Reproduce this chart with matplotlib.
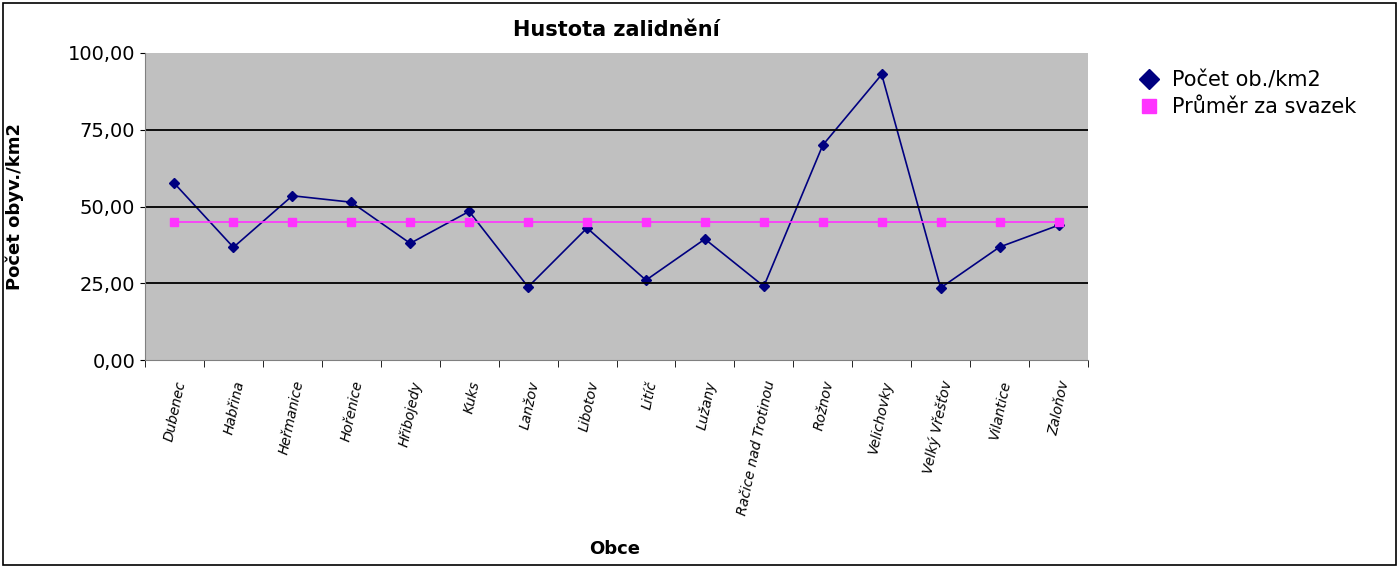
import matplotlib
matplotlib.use("Agg")
import matplotlib.pyplot as plt
from matplotlib.ticker import FuncFormatter
from matplotlib.lines import Line2D

obce = ["Dubenec","Habřina","Heřmanice","Hořenice","Hřibojedy","Kuks","Lanžov","Libotov","Litíč","Lužany","Račice nad Trotinou","Rožnov","Velichovky","Velký Vřešťov","Vilantice","Zaloňov"]
hustota = [57.5,36.7,53.5,51.4,38.0,48.4,23.8,43.0,26.0,39.4,24.0,70.0,93.0,23.5,36.8,43.9]
prumer = [45.0]*16

fig = plt.figure(figsize=(14,5.67), dpi=100)
fig.patches.append(plt.Rectangle((0.002,0.004),0.995,0.99,transform=fig.transFigure,fill=False,edgecolor='black',lw=1.2))
ax = fig.add_axes([145/1400, 1-360/567, 943/1400, 307/567])
ax.set_facecolor('#c0c0c0')
x = range(len(obce))
ax.plot(x, hustota, color='#000080', marker='D', markersize=5, lw=1.2)
ax.plot(x, prumer, color='#ff33ff', marker='s', markersize=6, lw=1.2)
ax.set_xlim(-0.45, 15.45)
ax.set_ylim(0, 100)
ax.set_yticks([0,25,50,75,100])
ax.yaxis.set_major_formatter(FuncFormatter(lambda v,p: f"{v:.2f}".replace('.',',')))
for y in [25,50,75]:
    ax.axhline(y, color='black', lw=1.3)
ax.set_xticks(list(x))
ax.set_xticklabels(obce, rotation=78, ha='right', rotation_mode='anchor', fontsize=10, style='italic')
ax.tick_params(axis='y', labelsize=14)
ax.set_xticks([i+0.5 for i in range(-1,16)], minor=True)
ax.tick_params(axis='x', which='major', length=0, pad=14)
ax.tick_params(axis='x', which='minor', length=5)
for s in ['top','right']:
    ax.spines[s].set_visible(False)
ax.spines['left'].set_color('#808080'); ax.spines['bottom'].set_color('#808080')
ax.set_title('Hustota zalidnění', fontsize=15, fontweight='bold', pad=12)
fig.text(15/1400, 1-207/567, 'Počet obyv./km2', fontsize=13, fontweight='bold', rotation=90, ha='center', va='center')
fig.text(615/1400, 1-549/567, 'Obce', fontsize=13, fontweight='bold', ha='center', va='center')
handles = [Line2D([],[],color='#000080',marker='D',markersize=10,ls='none'),
           Line2D([],[],color='#ff33ff',marker='s',markersize=10,ls='none')]
fig.legend(handles, ['Počet ob./km2','Průměr za svazek'], loc='upper left', bbox_to_anchor=(1120/1400, 1-52/567), frameon=False, fontsize=15, handlelength=1.0, handletextpad=0.6, labelspacing=0.3)
fig.savefig('out.png', dpi=100)
